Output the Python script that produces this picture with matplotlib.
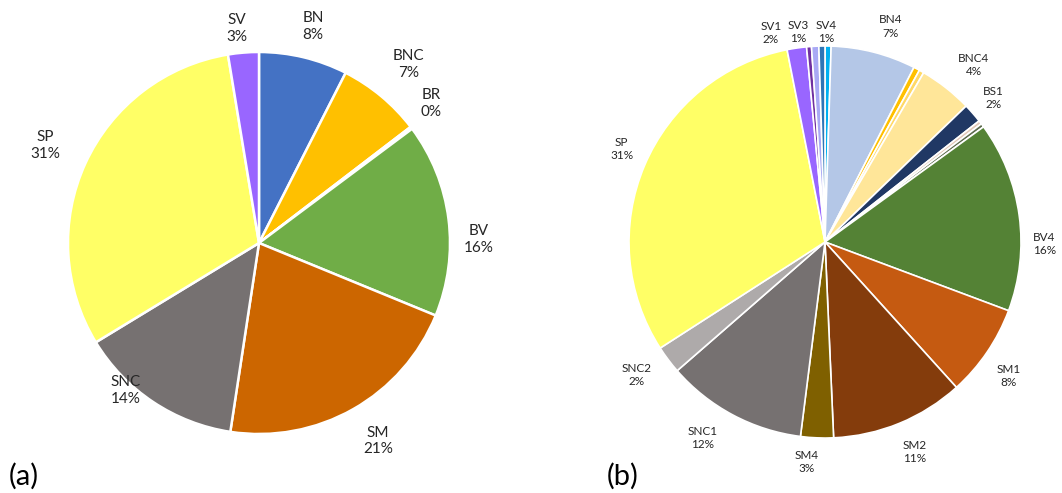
import numpy as np
import matplotlib
matplotlib.use("Agg")
import matplotlib.pyplot as plt

plt.rcParams['font.family'] = ['Lato', 'DejaVu Sans']

# ---- data: panel (a)
a_names = ['BN', 'BNC', 'BR', 'BV', 'SM', 'SNC', 'SP', 'SV']
a_values = [7.5, 7.1, 0.2, 16.4, 21.2, 13.9, 31.1, 2.6]
a_colors = ['#4472C4', '#FFC000', '#A5A5A5', '#70AD47', '#CC6600',
            '#767171', '#FFFF66', '#9966FF']

# ---- data: panel (b)  ('' = slice without label)
b_names = ['', 'BN4', '', '', 'BNC4', 'BS1', '', '', 'BV4', 'SM1', 'SM2',
           'SM4', 'SNC1', 'SNC2', 'SP', 'SV1', '', 'SV3', 'SV4']
b_values = [0.5, 7.0, 0.5, 0.4, 4.4, 1.6, 0.3, 0.3, 15.7, 7.6, 11.0,
            2.7, 11.6, 2.3, 31.0, 1.6, 0.4, 0.6, 0.5]
b_colors = ['#00B0F0', '#B4C7E7', '#FFC000', '#FFD966', '#FFE699', '#203864',
            '#E2C8B8', '#5E6B4E', '#548235', '#C55A11', '#843C0C', '#7F6000',
            '#767171', '#AEAAAA', '#FFFF66', '#9966FF', '#7030A0', '#A9A9F5',
            '#2E75B6']

# ---- layout: label placement (angle clockwise from top in degrees, radius / pie radius)
a_label_place = {'BN': (14, 1.17), 'BNC': (40, 1.22), 'BR': (51, 1.16),
                 'BV': (89, 1.15), 'SM': (149, 1.21), 'SNC': (222, 1.04),
                 'SP': (294.5, 1.23), 'SV': (354, 1.13)}
b_label_place = {'BN4': (17, 1.15), 'BNC4': (40, 1.18), 'BS1': (49.4, 1.13),
                 'BV4': (90.5, 1.12), 'SM1': (126.2, 1.16), 'SM2': (156.8, 1.165),
                 'SM4': (184.7, 1.126), 'SNC1': (212, 1.18), 'SNC2': (234.7, 1.175),
                 'SP': (294.5, 1.14), 'SV1': (345.5, 1.10), 'SV3': (352.6, 1.08),
                 'SV4': (0.3, 1.07)}

W, H = 1062, 493
fig = plt.figure(figsize=(W / 100, H / 100), dpi=100)


def make_axes(cx, cy_top, r, half):
    cy = H - cy_top
    ax = fig.add_axes([(cx - half) / W, (cy - half) / H, 2 * half / W, 2 * half / H])
    ax.axis('off')
    return ax


def draw_pie(ax, names, values, colors, place, fontsize, lw):
    total = sum(values)
    ax.pie(values, colors=colors, startangle=90, counterclock=False,
           radius=1.0, wedgeprops=dict(edgecolor='white', linewidth=lw))
    for name, v in zip(names, values):
        if not name:
            continue
        pct = int(np.floor(v / total * 100 + 0.5 + 1e-6))
        ang, R = place[name]
        t = np.deg2rad(ang)
        ax.text(R * np.sin(t), R * np.cos(t), f"{name}\n{pct}%", ha='center',
                va='center', fontsize=fontsize, color='#262626',
                linespacing=1.25, clip_on=False)


ax_a = make_axes(259, 243, 191, 245)
draw_pie(ax_a, a_names, a_values, a_colors, a_label_place, 11, 1.8)
lim_a = 245 / 191
ax_a.set_xlim(-lim_a, lim_a); ax_a.set_ylim(-lim_a, lim_a); ax_a.set_aspect('equal')

ax_b = make_axes(825, 242, 196, 236)
draw_pie(ax_b, b_names, b_values, b_colors, b_label_place, 8.5, 1.2)
lim_b = 236 / 196
ax_b.set_xlim(-lim_b, lim_b); ax_b.set_ylim(-lim_b, lim_b); ax_b.set_aspect('equal')

fig.text(9 / W, 1 - 476 / H, '(a)', fontsize=21, ha='left', va='center', color='black')
fig.text(607 / W, 1 - 476 / H, '(b)', fontsize=21, ha='left', va='center', color='black')

fig.savefig('out.png', dpi=100, facecolor='white')
